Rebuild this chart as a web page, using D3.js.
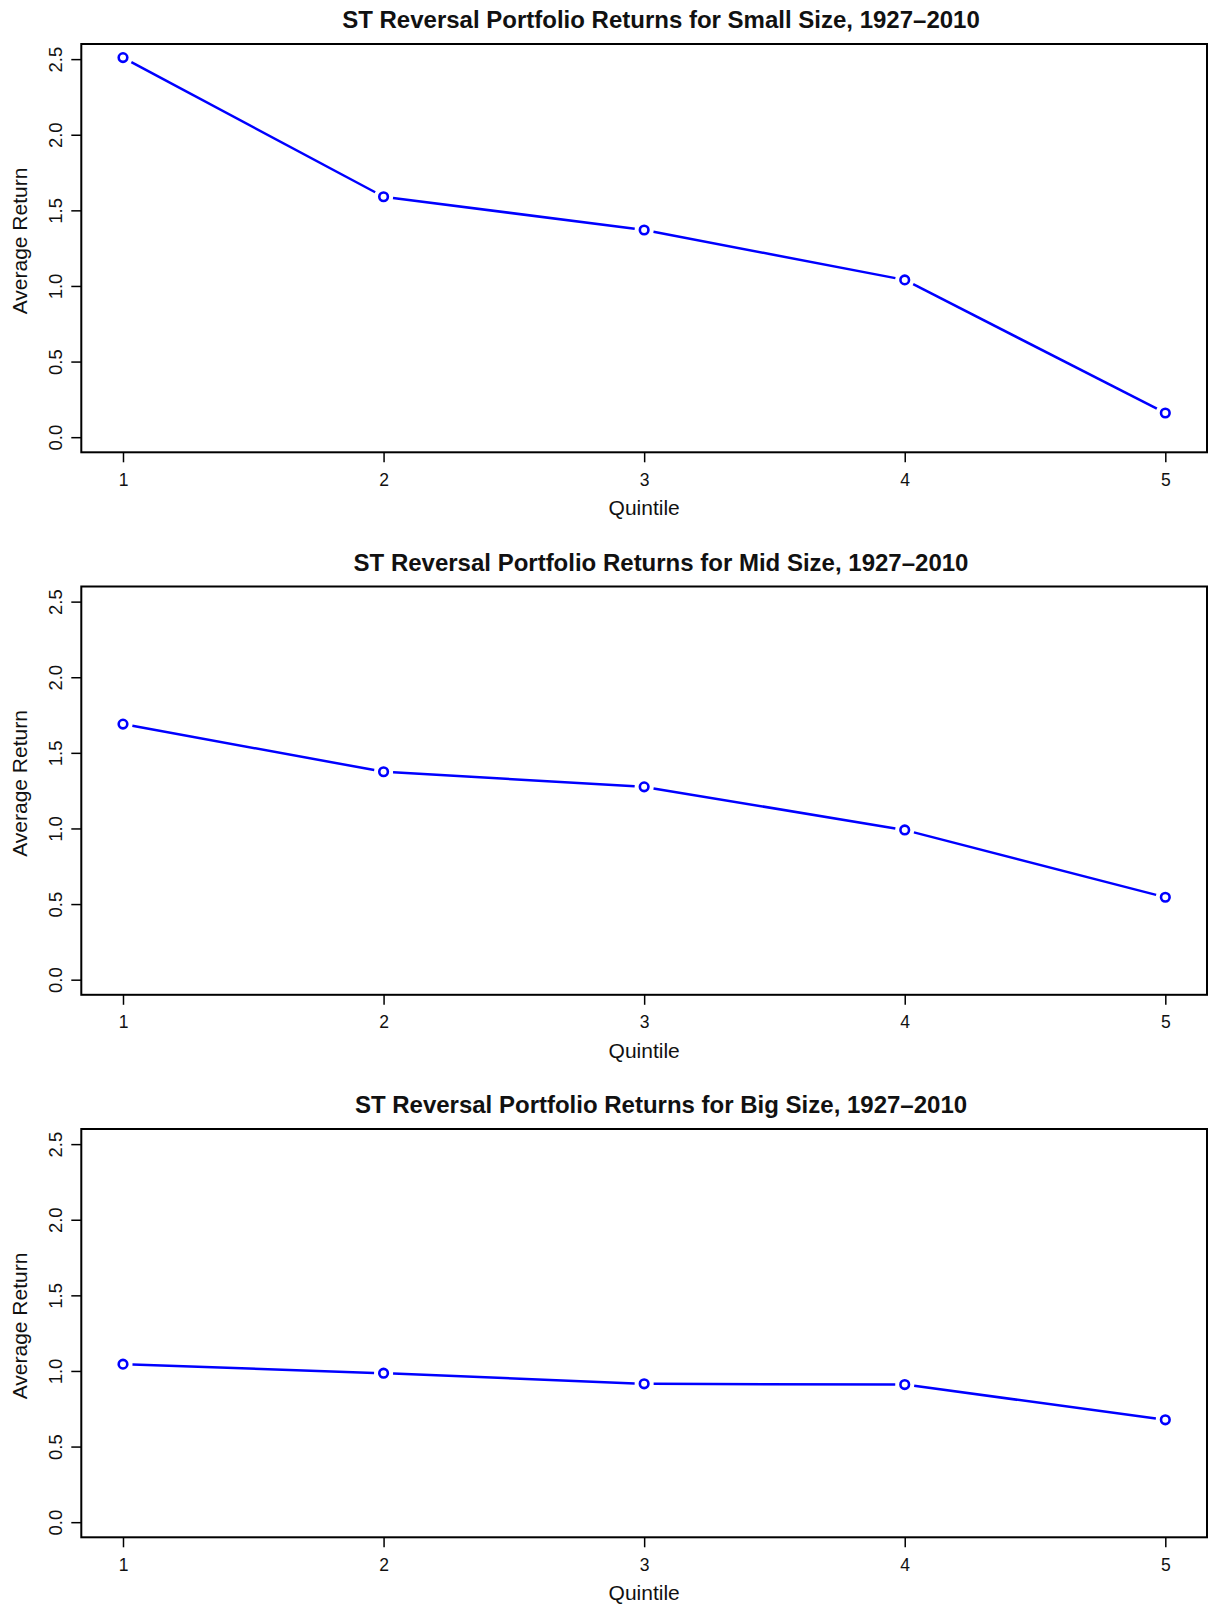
<!DOCTYPE html>
<meta charset="utf-8">
<style>

body {
  margin: 0;
  background: #fff;
}

svg {
  font-family: "Liberation Sans", Arial, Helvetica, sans-serif;
}

.axis .domain {
  display: none;
}

.axis line {
  stroke: #000;
  stroke-width: 1.5;
}

.axis text {
  fill: #111;
  font-size: 17.5px;
}

.axis--y text {
  font-size: 18.5px;
}

.frame {
  fill: none;
  stroke: #000;
  stroke-width: 2;
}

.series {
  fill: none;
  stroke: #0000ff;
  stroke-width: 2.5;
}

.dot {
  fill: #fff;
  stroke: #0000ff;
  stroke-width: 2.6;
}

.title {
  font-size: 24px;
  font-weight: bold;
  fill: #111;
}

.label {
  font-size: 21px;
  fill: #111;
}

</style>
<svg width="1212" height="1606"></svg>
<script src="https://d3js.org/d3.v7.min.js"></script>
<script>

var quintiles = [1, 2, 3, 4, 5];
var smallReturns = [2.51, 1.59, 1.37, 1.04, 0.16];
var midReturns = [1.69, 1.375, 1.275, 0.99, 0.545];
var bigReturns = [1.045, 0.985, 0.915, 0.91, 0.677];
var yTicks = [0, 0.5, 1, 1.5, 2, 2.5];
var titles = [
  "ST Reversal Portfolio Returns for Small Size, 1927\u20132010",
  "ST Reversal Portfolio Returns for Mid Size, 1927\u20132010",
  "ST Reversal Portfolio Returns for Big Size, 1927\u20132010"
];
var panels = [smallReturns, midReturns, bigReturns];

var svg = d3.select("svg");

var left = 81.3,
    right = 1207,
    top0 = 44,
    plotHeight = 408.3,
    panelStep = 542.5,
    gap = 9.5;

// R pads the range by 4% on each side
var x = d3.scaleLinear()
    .domain([0.84, 5.16])
    .range([left, right]);

panels.forEach(function(values, i) {
  var top = top0 + i * panelStep,
      bottom = top + plotHeight;

  var y = d3.scaleLinear()
      .domain([-0.1, 2.6])
      .range([bottom, top]);

  var g = svg.append("g");

  g.append("text")
      .attr("class", "title")
      .attr("x", 661)
      .attr("y", top - 15.7)
      .attr("text-anchor", "middle")
      .text(titles[i]);

  var xAxis = d3.axisBottom(x)
      .tickValues(quintiles)
      .tickSize(10)
      .tickFormat(d3.format("d"));

  var yAxis = d3.axisLeft(y)
      .tickValues(yTicks)
      .tickSize(10)
      .tickFormat(d3.format(".1f"));

  g.append("g")
      .attr("class", "axis axis--x")
      .attr("transform", "translate(0," + bottom + ")")
      .call(xAxis)
    .selectAll("text")
      .attr("y", 33.7)
      .attr("dy", null);

  g.append("g")
      .attr("class", "axis axis--y")
      .attr("transform", "translate(" + left + ",0)")
      .call(yAxis)
    .selectAll("text")
      .attr("transform", "rotate(-90)")
      .attr("text-anchor", "middle")
      .attr("x", 0)
      .attr("y", -19.3)
      .attr("dy", null);

  g.append("rect")
      .attr("class", "frame")
      .attr("x", left)
      .attr("y", top)
      .attr("width", right - left)
      .attr("height", plotHeight);

  g.append("text")
      .attr("class", "label")
      .attr("x", (left + right) / 2)
      .attr("y", bottom + 62.7)
      .attr("text-anchor", "middle")
      .text("Quintile");

  g.append("text")
      .attr("class", "label")
      .attr("transform", "translate(26.7," + (top + 197) + ") rotate(-90)")
      .attr("text-anchor", "middle")
      .text("Average Return");

  // type = "b": segments stop short of each point
  var pts = quintiles.map(function(q, j) { return [x(q), y(values[j])]; });
  var segs = d3.pairs(pts).map(function(p) {
    var dx = p[1][0] - p[0][0],
        dy = p[1][1] - p[0][1],
        len = Math.sqrt(dx * dx + dy * dy),
        ux = dx / len,
        uy = dy / len;
    return [[p[0][0] + ux * gap, p[0][1] + uy * gap],
            [p[1][0] - ux * gap, p[1][1] - uy * gap]];
  });

  g.selectAll(".series")
      .data(segs)
    .enter().append("path")
      .attr("class", "series")
      .attr("d", d3.line());

  g.selectAll(".dot")
      .data(values)
    .enter().append("circle")
      .attr("class", "dot")
      .attr("cx", function(d, j) { return x(quintiles[j]); })
      .attr("cy", function(d) { return y(d); })
      .attr("r", 4.3);
});

</script>
